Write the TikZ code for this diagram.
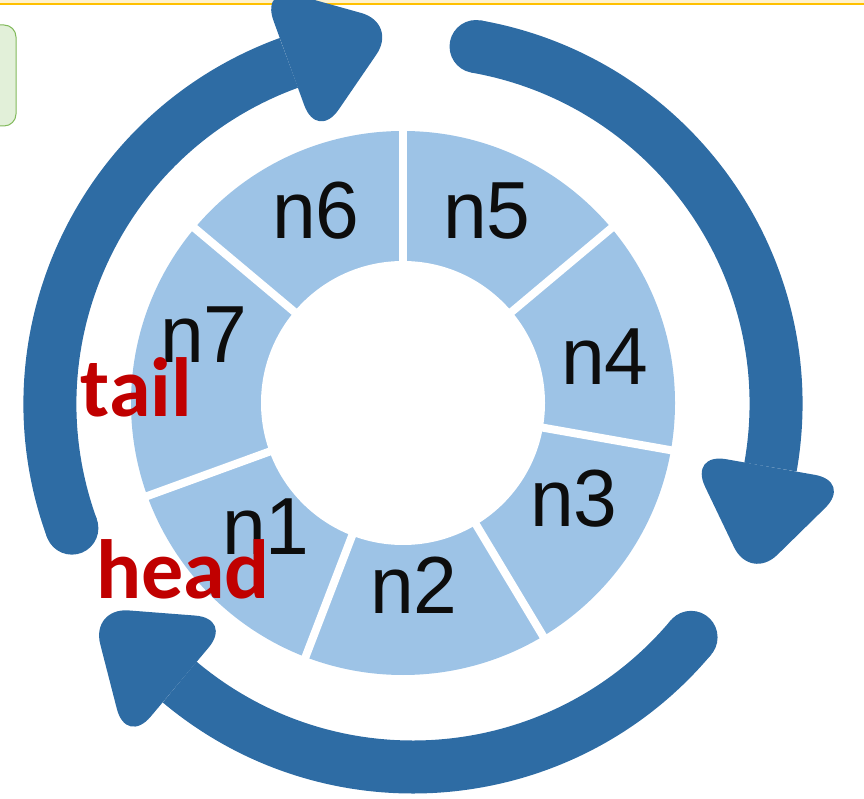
\documentclass[tikz,border=0pt]{standalone}
\usepackage{fontspec}
\setmainfont{Liberation Sans}
\newfontfamily\nfont[FakeStretch=0.97]{Liberation Sans}
\newfontfamily\rfont{Carlito}
\usetikzlibrary{calc}
\definecolor{arrowblue}{HTML}{2E6CA4}
\definecolor{ringblue}{HTML}{9DC3E6}
\definecolor{tagred}{HTML}{C00000}
\definecolor{boxgreen}{HTML}{E2F0D9}
\definecolor{boxedge}{HTML}{82BA5C}
\definecolor{topline}{HTML}{FFC000}
\definecolor{topband}{HTML}{FFF2CC}
\begin{document}
\begin{tikzpicture}[x=1pt,y=1pt,
  seglabel/.style={font=\nfont\fontsize{81}{81}\selectfont, text=black!95, anchor=base, inner sep=0pt},
  ptrlabel/.style={font=\rfont\bfseries\fontsize{84}{84}\selectfont, text=tagred, anchor=base, inner sep=0pt},
  shaft/.style={draw=arrowblue, line width=53pt},
  headtip/.style={fill=arrowblue, rounded corners=38pt}]
\useasboundingbox (0,0) rectangle (864,798);
\clip (0,0) rectangle (864,798);
% top band
\fill[topband] (0,794) rectangle (864,798);
\draw[topline, line width=1.5pt] (0,794) -- (864,794);
% green box at the left edge
\draw[boxedge, fill=boxgreen, line width=1pt, rounded corners=12pt] (-30,773) rectangle (16,672);
% ring of segments
\coordinate (R) at (403,395);
\fill[ringblue] (R) circle (272);
\fill[white] (R) circle (142);
\foreach \a in {90,40,-10,-59,-111,-160,140}
  \draw[white, line width=8pt] ($(R)+(\a:138)$) -- ($(R)+(\a:276)$);
% circular arrows
\coordinate (C) at (413,394);
\foreach \s/\b in {200/110, 80/-10, -40/-130} {
  \fill[arrowblue] ($(C)+(\s:363)$) circle (26.5);
  \draw[shaft] ($(C)+(\s:363)$) arc[start angle=\s, end angle=\b, radius=363];
  \fill[headtip] ($(C)+(\b:280)$) -- ($(C)+(\b:446)$) -- ($(C)+(\b:363)+({\b-90}:116)$) -- cycle;
}
% segment labels
\node[seglabel] (n6) at (316,559) {n6};
\node[seglabel] (n5) at (487,559) {n5};
\node[seglabel] (n4) at (605,413) {n4};
\node[seglabel] (n3) at (574,271) {n3};
\node[seglabel] (n2) at (414,185) {n2};
\node[seglabel] (n1) at (266,243) {n1};
\node[seglabel] (n7) at (204,435) {n7};
% pointers
\node[ptrlabel] (tail) at (136.5,381) {tail};
\node[ptrlabel] (head) at (183,200) {head};
\end{tikzpicture}
\end{document}
